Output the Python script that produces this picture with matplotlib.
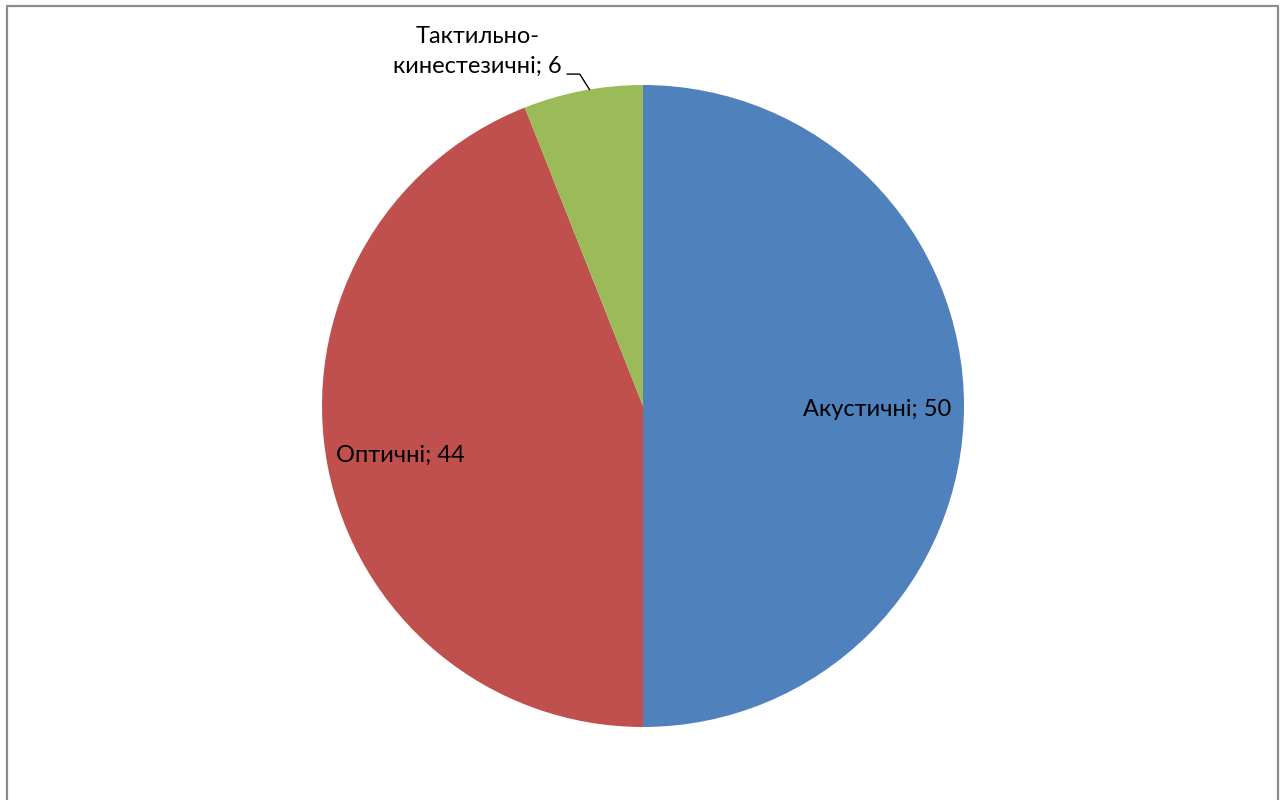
import numpy as np
import matplotlib.pyplot as plt
from matplotlib.lines import Line2D

# slice data (clockwise from top)
labels = ['Акустичні', 'Оптичні', 'Тактильно-\nкинестезичні']
values = [50, 44, 6]
colors = ['#4F81BD', '#C0504D', '#9BBB59']

plt.rcParams['font.family'] = ['Lato', 'DejaVu Sans']

fig = plt.figure(figsize=(12.86, 8), dpi=100)
ax = fig.add_axes([0, 0, 1, 1])

wedges, _ = ax.pie(values, colors=colors, startangle=90, counterclock=False,
                   wedgeprops=dict(linewidth=0))

# map pixels: centre at (643, 406), radius 321 px
ax.set_xlim(-643 / 321, (1286 - 643) / 321)
ax.set_ylim(-394 / 321, 406 / 321)
ax.set_aspect('auto')
ax.axis('off')

fs = 17
# inside labels
for w, lab, v, dist in zip(wedges[:2], labels[:2], values[:2], [0.73, 0.77]):
    mid = np.deg2rad((w.theta1 + w.theta2) / 2)
    ax.text(dist * np.cos(mid), dist * np.sin(mid) - 0.01, f'{lab}; {v}',
            ha='center', va='center', fontsize=fs, color='black')

# outside label for the small slice, with a leader line
w = wedges[2]
ax.text(-0.515, 1.104, f'{labels[2]}; {values[2]}', ha='center', va='center',
        fontsize=fs, color='black', linespacing=1.55)
ex, ey = np.cos(np.deg2rad(w.theta2 - 12)), np.sin(np.deg2rad(w.theta2 - 12))
ax.plot([-0.236, -0.197, ex], [1.034, 1.034, ey], color='black', lw=1.0)

# chart frame
fx0, fx1, fy1 = 7 / 1286, 1278 / 1286, 1 - 6 / 800
fig.add_artist(Line2D([fx0, fx0, fx1, fx1], [-0.01, fy1, fy1, -0.01],
                      transform=fig.transFigure, color='#8c8c8c', lw=1.6))

fig.savefig('out.png', dpi=100)
